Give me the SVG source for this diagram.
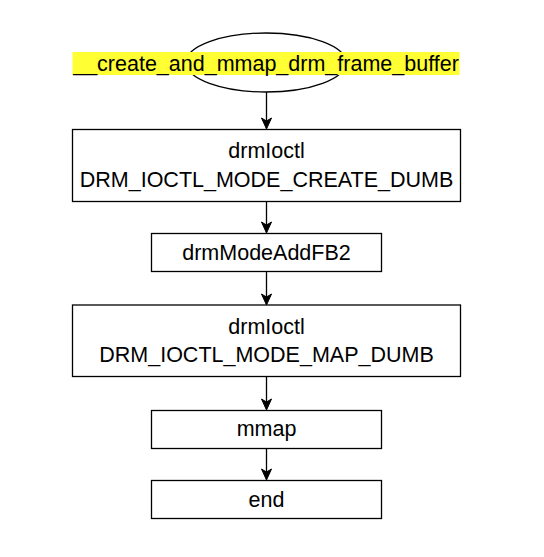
<svg xmlns="http://www.w3.org/2000/svg" width="544" height="557" viewBox="0 0 544 557">
<style>
.box{fill:#fff;stroke:#000;stroke-width:1.3}
.t{font-family:"Liberation Sans",Arial,sans-serif;font-size:21.5px;fill:#000;text-anchor:middle}
.edge{stroke:#000;stroke-width:1.3;fill:none}
.ah{fill:#000;stroke:#000;stroke-width:1}
</style>
<rect width="544" height="557" fill="#fff"/>
<g id="start">
<ellipse class="box" cx="266" cy="62.5" rx="80" ry="29.5"/>
<rect x="72.5" y="52" width="387" height="23" fill="#ffff33"/>
<text class="t" x="266" y="70.5">__create_and_mmap_drm_frame_buffer</text>
</g>
<g id="create">
<rect class="box" x="72.5" y="129.5" width="388" height="72"/>
<text class="t" x="266.5" y="158">drmIoctl</text>
<text class="t" x="266.5" y="186.5">DRM_IOCTL_MODE_CREATE_DUMB</text>
</g>
<g id="addfb">
<rect class="box" x="151.5" y="233.5" width="230" height="38"/>
<text class="t" x="266.5" y="260">drmModeAddFB2</text>
</g>
<g id="map">
<rect class="box" x="72.5" y="305" width="388" height="71.5"/>
<text class="t" x="266.5" y="333.5">drmIoctl</text>
<text class="t" x="266.5" y="361.5">DRM_IOCTL_MODE_MAP_DUMB</text>
</g>
<g id="mmap">
<rect class="box" x="151.5" y="410.5" width="230" height="38"/>
<text class="t" x="266.5" y="435.5">mmap</text>
</g>
<g id="end">
<rect class="box" x="151.5" y="480.5" width="230" height="38"/>
<text class="t" x="266.5" y="506.5">end</text>
</g>
<g id="connectors">
<path class="edge" d="M266.5,92 V121"/>
<path class="ah" d="M266.5,129 L261.5,118 L266.5,121 L271.5,118 Z"/>
<path class="edge" d="M266.5,201.5 V225"/>
<path class="ah" d="M266.5,233 L261.5,222 L266.5,225 L271.5,222 Z"/>
<path class="edge" d="M266.5,271.5 V297"/>
<path class="ah" d="M266.5,305 L261.5,294 L266.5,297 L271.5,294 Z"/>
<path class="edge" d="M266.5,376.5 V402"/>
<path class="ah" d="M266.5,410 L261.5,399 L266.5,402 L271.5,399 Z"/>
<path class="edge" d="M266.5,448.5 V472"/>
<path class="ah" d="M266.5,480 L261.5,469 L266.5,472 L271.5,469 Z"/>
</g>
</svg>
